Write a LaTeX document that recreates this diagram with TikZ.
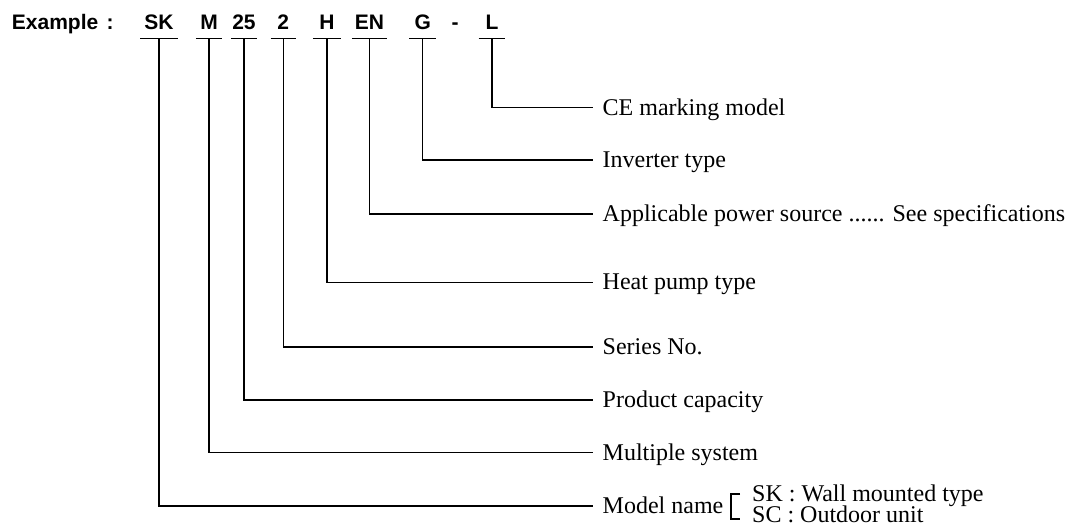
\documentclass[tikz,border=0pt]{standalone}
\usepackage{fontspec}
\setmainfont{Liberation Serif}
\newfontfamily\hv{Liberation Sans}
\begin{document}
\begin{tikzpicture}[x=1pt,y=1pt,
  code/.style={font=\hv\bfseries\fontsize{21}{22}\selectfont, anchor=base,
    inner sep=0pt, text height=15pt, text depth=9pt},
  uline/.style={line width=1.8pt},
  conn/.style={line width=1.1pt},
  lab/.style={font=\fontsize{24}{26}\selectfont, anchor=west,
    inner xsep=9.5pt, inner ysep=0pt, text height=15pt, text depth=0pt},
  sub/.style={font=\fontsize{24}{26}\selectfont, anchor=base west, inner sep=0pt}]
\useasboundingbox (0,0) rectangle (1066,-529);

% top row
\node[code, anchor=base west] (ex) at (11.7,-29.3) {Example\hspace{0.4em}:};
\node[code, minimum width=37pt]   (cSK) at (159,-29.3)   {SK};
\node[code, minimum width=26pt]   (cM)  at (209,-29.3)   {M};
\node[code, minimum width=26pt]   (c25) at (244,-29.3)   {25};
\node[code, minimum width=25pt]   (c2)  at (283.3,-29.3) {2};
\node[code, minimum width=27.7pt] (cH)  at (327,-29.3)   {H};
\node[code, minimum width=35pt]   (cEN) at (369.5,-29.3) {EN};
\node[code, minimum width=26.7pt] (cG)  at (422.7,-29.3) {G};
\node[code]                       (cd)  at (455,-29.3)   {-};
\node[code, minimum width=26.4pt] (cL)  at (492,-29.3)   {L};

\foreach \n in {cSK,cM,c25,c2,cH,cEN,cG,cL}
  \draw[uline] (\n.south west) -- (\n.south east);

% labels
\node[lab] (lCE)  at (593,-107.7) {CE marking model};
\node[lab] (lInv) at (593,-160)   {Inverter type};
\node[lab] (lApp) at (593,-214)   {Applicable power source ...... See specifications};
\node[lab] (lHP)  at (593,-282.3) {Heat pump type};
\node[lab] (lSer) at (593,-347)   {Series No.};
\node[lab] (lPro) at (593,-400)   {Product capacity};
\node[lab] (lMul) at (593,-452.7) {Multiple system};
\node[lab] (lMod) at (593,-506)   {Model name};

% connectors
\draw[conn] (cL.south)  |- (lCE.west);
\draw[conn] (cG.south)  |- (lInv.west);
\draw[conn] (cEN.south) |- (lApp.west);
\draw[conn] (cH.south)  |- (lHP.west);
\draw[conn] (c2.south)  |- (lSer.west);
\draw[conn] (c25.south) |- (lPro.west);
\draw[conn] (cM.south)  |- (lMul.west);
\draw[conn] (cSK.south) |- (lMod.west);

% bracket and model list
\draw[conn] (740,-494) -- (731,-494) -- (731,-519) -- (740,-519);
\node[sub] (sSK) at (752,-501)   {SK : Wall mounted type};
\node[sub] (sSC) at (752,-522.7) {SC : Outdoor unit};
\end{tikzpicture}
\end{document}
